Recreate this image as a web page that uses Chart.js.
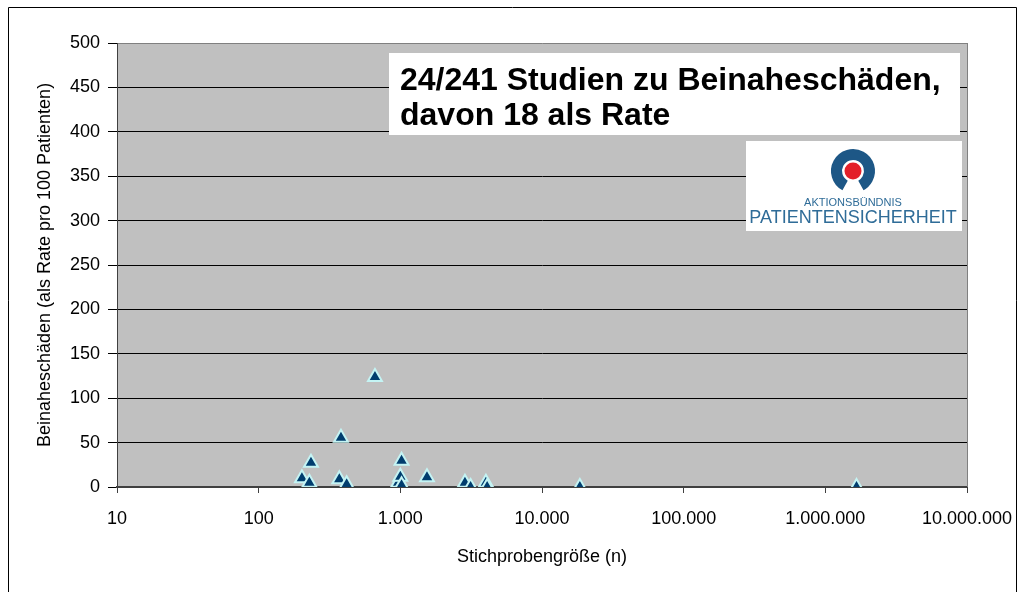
<!DOCTYPE html>
<html>
<head>
<meta charset="utf-8">
<script src="https://cdn.jsdelivr.net/npm/chart.js@4/dist/chart.umd.min.js"></script>
<style>
  body { margin: 0; background: #fff; }
  #wrap { width: 1024px; height: 592px; }
</style>
</head>
<body>
<div id="wrap"><canvas id="nearMissChart" width="1024" height="592"></canvas></div>
<script>
const sampleSize = [202, 228, 234, 371, 381, 418, 662, 966, 1000, 1020, 1020, 1542, 2858, 3134, 4018, 4100, 18500, 1660000];
const nearMissRate = [9.8, 4.8, 27.4, 8.6, 55.5, 3, 124, 4.8, 11.6, 29.6, 2, 10.9, 4.8, 0, 4.8, 0, 0, 0];
const xTicks = [10, 100, 1000, 10000, 100000, 1000000, 10000000];
const boxLines = ['24/241 Studien zu Beinaheschäden,', 'davon 18 als Rate'];

const sans = "'Liberation Sans', Arial, sans-serif";

const decor = {
  id: 'decor',
  beforeDraw(chart) {
    const { ctx, chartArea: a } = chart;
    ctx.save();
    ctx.fillStyle = '#c0c0c0';
    ctx.fillRect(a.left, a.top, a.right - a.left, a.bottom - a.top);
    ctx.restore();
  },
  afterDraw(chart) {
    const { ctx, chartArea: a } = chart;
    ctx.save();
    // plot area right border
    ctx.strokeStyle = '#808080';
    ctx.lineWidth = 1;
    ctx.beginPath();
    ctx.moveTo(a.right + 0.5, a.top);
    ctx.lineTo(a.right + 0.5, a.bottom);
    ctx.stroke();

    // outer frame
    ctx.strokeStyle = '#000';
    ctx.beginPath();
    ctx.moveTo(8.5, 600);
    ctx.lineTo(8.5, 7.5);
    ctx.lineTo(1016.5, 7.5);
    ctx.lineTo(1016.5, 600);
    ctx.stroke();

    // text box
    ctx.fillStyle = '#fff';
    ctx.fillRect(389, 53, 571, 82);
    ctx.fillStyle = '#000';
    ctx.font = 'bold 32px ' + sans;
    ctx.textBaseline = 'middle';
    ctx.textAlign = 'left';
    ctx.fillText(boxLines[0], 400, 81);
    ctx.fillText(boxLines[1], 400, 116);

    // logo
    ctx.fillStyle = '#fff';
    ctx.fillRect(746, 141, 216, 90);
    ctx.strokeStyle = '#1d5786';
    ctx.lineWidth = 11;
    ctx.lineCap = 'butt';
    ctx.beginPath();
    ctx.arc(853, 171, 16.5, Math.PI / 2 + 0.5, Math.PI / 2 - 0.5 + Math.PI * 2);
    ctx.stroke();
    ctx.fillStyle = '#e3202a';
    ctx.beginPath();
    ctx.arc(853, 171, 8.5, 0, Math.PI * 2);
    ctx.fill();
    ctx.fillStyle = '#2f6c98';
    ctx.textAlign = 'center';
    ctx.font = '11px ' + sans;
    ctx.fillText('AKTIONSBÜNDNIS', 853, 203);
    ctx.font = '18px ' + sans;
    ctx.fillText('PATIENTENSICHERHEIT', 853, 218);
    ctx.restore();
  }
};

new Chart(document.getElementById('nearMissChart'), {
  type: 'scatter',
  data: {
    datasets: [{
      label: 'Beinaheschäden',
      data: sampleSize.map((x, i) => ({ x: x, y: nearMissRate[i] })),
      pointStyle: 'triangle',
      pointRadius: 8,
      pointHoverRadius: 8,
      backgroundColor: '#003d6e',
      borderColor: '#c4f4f4',
      borderWidth: 2
    }]
  },
  options: {
    responsive: false,
    animation: false,
    layout: { padding: { top: 43, right: 57, left: 0, bottom: 0 } },
    plugins: {
      legend: { display: false },
      tooltip: { enabled: false }
    },
    scales: {
      x: {
        type: 'logarithmic',
        min: 10,
        max: 10000000,
        afterBuildTicks: s => { s.ticks = xTicks.map(v => ({ value: v })); },
        afterFit: s => { s.height = 105; s.paddingLeft = 0; s.paddingRight = 0; },
        grid: { drawOnChartArea: false, drawTicks: true, tickLength: 6, color: '#404040' },
        border: { color: '#404040', width: 2 },
        ticks: {
          autoSkip: false,
          maxRotation: 0,
          padding: 15,
          color: '#000',
          font: { family: sans, size: 18 },
          callback: v => Number(v).toLocaleString('de-DE')
        },
        title: {
          display: true,
          text: 'Stichprobengröße (n)',
          color: '#000',
          font: { family: sans, size: 18 },
          padding: { top: 0, bottom: 24 }
        }
      },
      y: {
        min: 0,
        max: 500,
        afterFit: s => { s.width = 117; },
        ticks: {
          stepSize: 50,
          padding: 8,
          color: '#000',
          font: { family: sans, size: 18 }
        },
        grid: {
          color: c => (c.tick && c.tick.value === 500 ? '#808080' : '#000'),
          tickLength: 9,
          tickColor: '#000'
        },
        border: { color: '#404040', width: 1 },
        title: {
          display: true,
          text: 'Beinaheschäden (als Rate pro 100 Patienten)',
          color: '#000',
          font: { family: sans, size: 18 },
          padding: { top: 34, bottom: 0 }
        }
      }
    }
  },
  plugins: [decor]
});
</script>
</body>
</html>
